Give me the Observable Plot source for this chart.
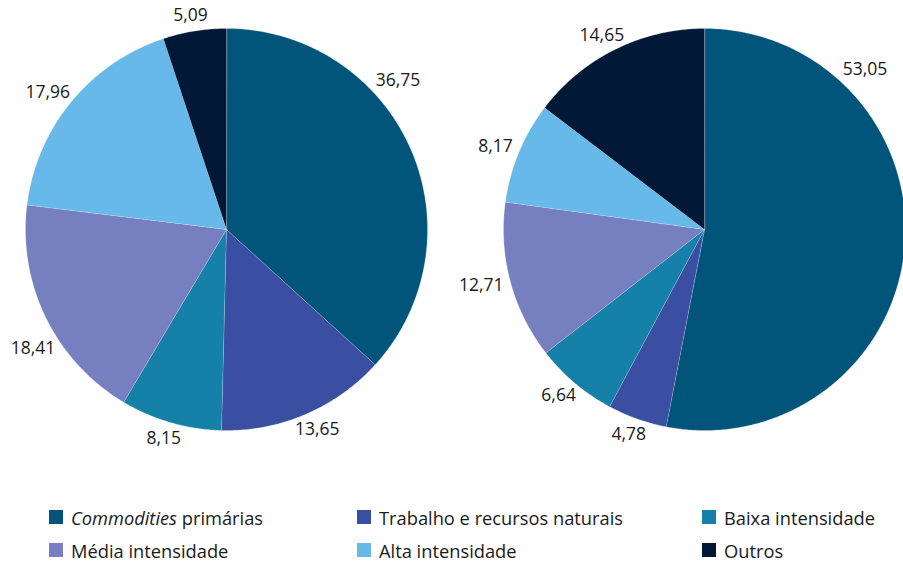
<!DOCTYPE html>
<html><head><meta charset="utf-8">
<script src="https://cdn.jsdelivr.net/npm/d3@7"></script>
<script src="https://cdn.jsdelivr.net/npm/@observablehq/plot@0.6"></script>
<style>
body{margin:0;background:#fff;font-family:"Open Sans",sans-serif;}
#chart{height:470px;}
#legend{position:relative;height:91px;font-size:18.3px;color:#1a1a1a;}
.item{position:absolute;display:flex;align-items:center;height:20px;white-space:nowrap;}
.sw{width:14px;height:14px;margin-right:8px;flex:none;}
</style></head>
<body>
<div id="chart"></div>
<div id="legend"></div>
<script>
const categories = ["Commodities primárias","Trabalho e recursos naturais","Baixa intensidade","Média intensidade","Alta intensidade","Outros"];
const colors = ["#02557A","#3A4FA1","#1580A8","#767FC0","#66B9E8","#011836"];
const leftValues = [36.75,13.65,8.15,18.41,17.96,5.09];
const rightValues = [53.05,4.78,6.64,12.71,8.17,14.65];

const W = 903, H = 470, R = 201, CX = 226, CY = 229, GAP = 478;
const FS = 17.5;
const pieCenters = [0, GAP / R];

function labelPos(cx, la, w, h) {
  const r = 1 + 6 / R;
  return [cx + r * Math.sin(la) + Math.sin(la) * (w / 2) / R,
          r * Math.cos(la) + Math.cos(la) * (h / 2) / R];
}

const slices = [], labels = [];
[leftValues, rightValues].forEach((vals, p) => {
  const total = d3.sum(vals);
  let a = 0;
  vals.forEach((v, i) => {
    const a0 = a, a1 = a + v / total * 2 * Math.PI; a = a1;
    const key = p + "-" + i;
    const cx = pieCenters[p];
    slices.push({key, cat: categories[i], x: cx, y: 0});
    const n = Math.max(2, Math.ceil((a1 - a0) / (Math.PI / 360)));
    for (let k = 0; k <= n; k++) {
      const t = a0 + (a1 - a0) * k / n;
      slices.push({key, cat: categories[i], x: cx + Math.sin(t), y: Math.cos(t)});
    }
    const text = v.toFixed(2).replace(".", ",");
    let lx, ly;
    if (a1 - a0 > Math.PI / 2) {
      const la = a0 + Math.PI / 4 + (p === 0 ? 0.07 : 0);
      lx = cx + 1.13 * Math.sin(la); ly = 1.13 * Math.cos(la);
    } else {
      let la = (a0 + a1) / 2;
      const w = text.length * 0.55 * FS, h = 20;
      [lx, ly] = labelPos(cx, la, w, h);
      let guard = 0;
      while ((lx * R + CX - w / 2) < 8 && guard++ < 90) {
        la += (la > Math.PI ? -1 : 1) * Math.PI / 360;
        [lx, ly] = labelPos(cx, la, w, h);
      }
    }
    labels.push({x: lx, y: ly, text});
  });
});

const plot = Plot.plot({
  width: W, height: H,
  margin: 0,
  x: {domain: [-CX / R, (W - CX) / R], axis: null},
  y: {domain: [-(H - CY) / R, CY / R], axis: null},
  color: {domain: categories, range: colors},
  style: {fontFamily: "'Open Sans', sans-serif", display: "block"},
  marks: [
    Plot.line(slices, {x: "x", y: "y", z: "key", fill: "cat", stroke: "white", strokeWidth: 0.4, strokeOpacity: 0.5, curve: "linear-closed"}),
    Plot.text(labels, {x: "x", y: "y", text: "text", fontSize: FS, fill: "#1a1a1a", textAnchor: "middle", lineAnchor: "middle"})
  ]
});
document.getElementById("chart").appendChild(plot);

const legendPos = [[49,37],[357,37],[702,37],[49,70],[357,70],[702,70]];
const leg = document.getElementById("legend");
categories.forEach((c, i) => {
  const d = document.createElement("div");
  d.className = "item";
  d.style.left = legendPos[i][0] + "px";
  d.style.top = legendPos[i][1] + "px";
  const label = i === 0 ? "<i>Commodities</i> primárias" : c;
  d.innerHTML = `<span class="sw" style="background:${colors[i]}"></span><span>${label}</span>`;
  leg.appendChild(d);
});
</script>
</body></html>
